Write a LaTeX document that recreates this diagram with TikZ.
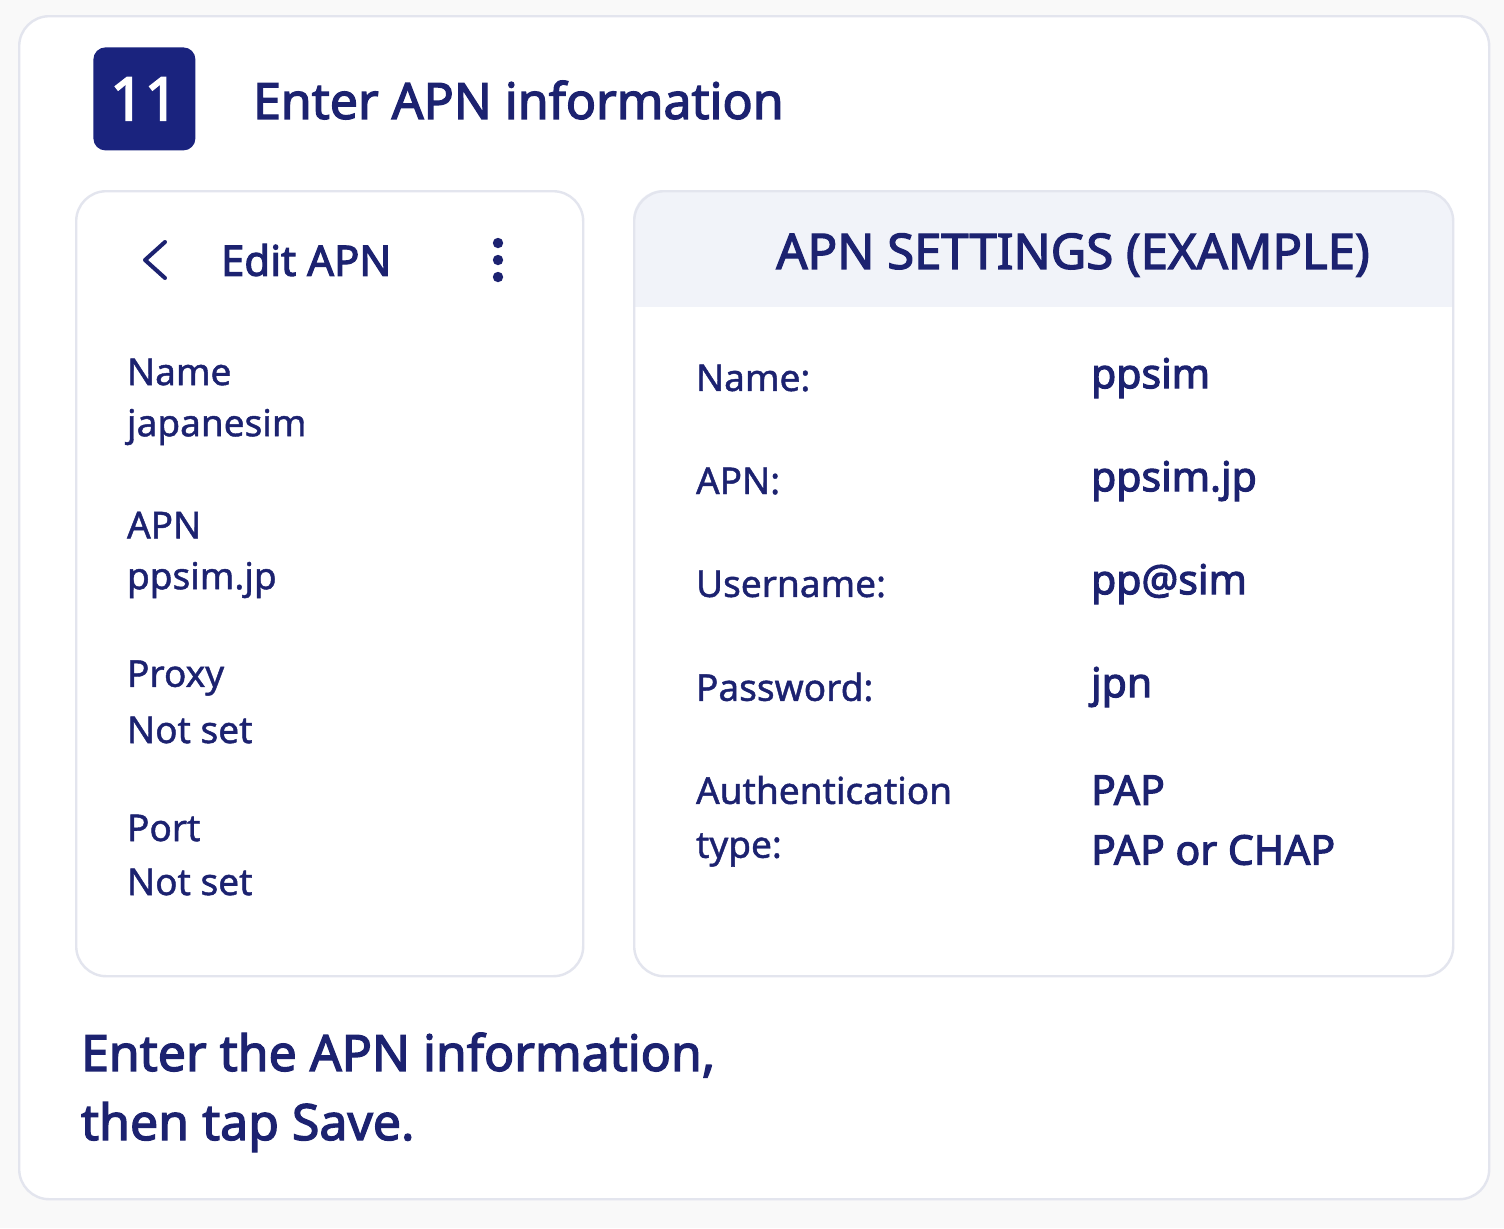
\documentclass[tikz,border=0pt]{standalone}
\usepackage{fontspec}
\setmainfont{Noto Sans}
\newfontfamily\med[FakeBold=1.2]{Noto Sans}
\newfontfamily\bld[FakeBold=2.6]{Noto Sans}
\definecolor{navy}{HTML}{1A237E}
\definecolor{txt}{HTML}{1C2270}
\definecolor{bord}{HTML}{E3E5EE}
\definecolor{band}{HTML}{F1F3F9}
\begin{document}
\begin{tikzpicture}[x=0.5pt,y=-0.5pt,
  lab/.style={anchor=west,text=txt,font=\fontsize{18.5}{22}\med},
  val/.style={anchor=west,text=txt,font=\fontsize{20.5}{24}\bld},
  panel/.style={draw=bord,line width=1.2pt,fill=white,rounded corners=15pt}]
\useasboundingbox (0,0) rectangle (1504,1228);
\fill[white!95!gray] (0,0) rectangle (1504,1228);
\node[panel,minimum width=735pt,minimum height=591.5pt,anchor=north west] (card) at (18,15) {};
\node[fill=navy,rounded corners=6pt,minimum width=51pt,minimum height=51.5pt,anchor=north west,text=white,font=\fontsize{30}{34}\bld] (badge) at (93,47) {11};
\node[anchor=west,text=txt,font=\fontsize{25}{30}\bld] (title) at (246,100) {Enter APN information};
% left panel
\node[panel,minimum width=253.5pt,minimum height=392.5pt,anchor=north west] (left) at (75,190) {};
\coordinate (c1) at (165,242); \coordinate (c2) at (145,260); \coordinate (c3) at (165,278);
\draw[txt,line width=2pt,line cap=round,line join=round] (c1) -- (c2) -- (c3);
\node[anchor=west,text=txt,font=\fontsize{21}{25}\bld] (edit) at (214,260) {Edit APN};
\foreach \yy in {243,260,277}{\fill[txt] (498,\yy) circle (2.6pt);}
\node[lab] (l1) at (120,372) {Name};
\node[lab] (l2) at (120,427) {japanesim};
\node[lab] (l3) at (120,525) {APN};
\node[lab] (l4) at (120,580) {ppsim.jp};
\node[lab] (l5) at (120,678) {Proxy};
\node[lab] (l6) at (120,730) {Not set};
\node[lab] (l7) at (120,828) {Port};
\node[lab] (l8) at (120,882) {Not set};
% right panel
\begin{scope}
\clip[rounded corners=15pt] (633,190) rectangle (1452,975);
\fill[white] (633,190) rectangle (1452,975);
\fill[band] (633,190) rectangle (1452,307);
\end{scope}
\node[panel,fill=none,minimum width=409.5pt,minimum height=392.5pt,anchor=north west] (right) at (633,190) {};
\node[text=txt,font=\fontsize{24.5}{28}\bld] (rt) at (1073,255) {APN SETTINGS (EXAMPLE)};
\node[lab] (r1) at (689,378) {Name:};
\node[val] (v1) at (1084,378) {ppsim};
\node[lab] (r2) at (689,481) {APN:};
\node[val] (v2) at (1084,481) {ppsim.jp};
\node[lab] (r3) at (689,584) {Username:};
\node[val] (v3) at (1084,584) {pp@sim};
\node[lab] (r4) at (689,687) {Password:};
\node[val] (v4) at (1084,687) {jpn};
\node[lab] (r5) at (689,790) {Authentication};
\node[lab] (r6) at (689,850) {type:};
\node[val] (v5) at (1084,790) {PAP};
\node[val] (v6) at (1084,850) {PAP or CHAP};
% bottom
\node[anchor=west,text=txt,font=\fontsize{25}{30}\bld] (b1) at (74,1055) {Enter the APN information,};
\node[anchor=west,text=txt,font=\fontsize{25}{30}\bld] (b2) at (74,1127) {then tap Save.};
\end{tikzpicture}
\end{document}
